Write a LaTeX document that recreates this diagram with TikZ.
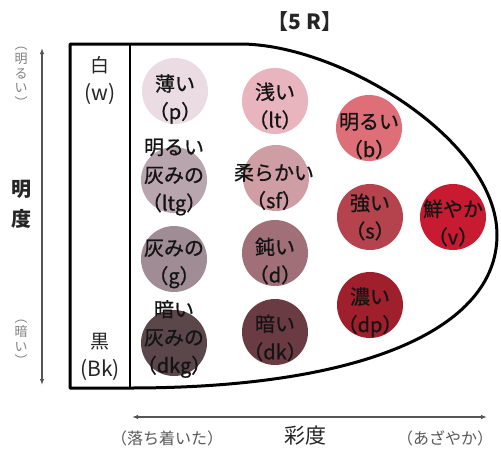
\documentclass[tikz,border=0pt]{standalone}
\usepackage{fontspec}
\setmainfont{Noto Sans CJK JP}
\setsansfont{Noto Sans CJK JP}
\newfontfamily\jpmed[FakeBold=0.8]{Noto Sans CJK JP}
\usetikzlibrary{arrows.meta}
\definecolor{cp}{HTML}{EADCE2}
\definecolor{clt}{HTML}{E8B5BE}
\definecolor{cb}{HTML}{DE6E77}
\definecolor{cltg}{HTML}{B9A5AE}
\definecolor{csf}{HTML}{CF9DA4}
\definecolor{cs}{HTML}{B5434D}
\definecolor{cv}{HTML}{C81A31}
\definecolor{cg}{HTML}{A08C94}
\definecolor{cd}{HTML}{A06F78}
\definecolor{cdkg}{HTML}{5B4749}
\definecolor{cdk}{HTML}{6B3B43}
\definecolor{cdp}{HTML}{A01F2D}
\definecolor{axisgray}{HTML}{555555}
\definecolor{labgray}{HTML}{808080}
\begin{document}
\begin{tikzpicture}[x=1pt,y=-1pt,
  tone/.style={circle, minimum size=66pt, inner sep=0pt, draw=none},
  lbl/.style={align=center, inner sep=0pt, font=\jpmed\fontsize{20}{28}\selectfont, text=black!92},
  wb/.style={align=center, inner sep=0pt, font=\fontsize{19}{28}\selectfont, text=black!85},
  vlab/.style={align=center, inner sep=0pt, font=\fontsize{13}{14.5}\selectfont, text=labgray},
  hlab/.style={inner sep=0pt, font=\fontsize{16}{18}\selectfont, text=black!65},
  axis/.style={line width=1.4pt, draw=axisgray, {Latex[length=6pt,width=4.5pt]}-{Latex[length=6pt,width=4.5pt]}},
  frame/.style={line width=3pt, draw=black}]
\useasboundingbox (0,0) rectangle (501,448);
\fill[white] (0,0) rectangle (501,448);

% tone circles
\node[tone, fill=cp]   (c-p)   at (175,91)  {};
\node[tone, fill=clt]  (c-lt)  at (275,101) {};
\node[tone, fill=cb]   (c-b)   at (369,128) {};
\node[tone, fill=cltg] (c-ltg) at (174,180) {};
\node[tone, fill=csf]  (c-sf)  at (276,178) {};
\node[tone, fill=cs]   (c-s)   at (370,217) {};
\node[tone, fill=cv]   (c-v)   at (453,217) {};
\node[tone, fill=cg]   (c-g)   at (174,259) {};
\node[tone, fill=cd]   (c-d)   at (275,253) {};
\node[tone, fill=cdp]  (c-dp)  at (370,305) {};
\node[tone, fill=cdkg] (c-dkg) at (174,343) {};
\node[tone, fill=cdk]  (c-dk)  at (275,332) {};

% frame
\coordinate (tl) at (70,44);
\coordinate (tm) at (240,44);
\coordinate (rt) at (497,235);
\coordinate (bm) at (130,388);
\coordinate (bl) at (70,388);
\draw[frame, line join=round] (bm) -- (bl) -- (tl) -- (tm)
  .. controls (340,44) and (497,140) .. (rt)
  .. controls (497,330) and (360,388) .. (bm);
\coordinate (it) at (130,44);
\draw[line width=2.6pt] (it) -- (bm);

% labels in circles
\node[lbl] (t-p)   at (175,99)  {薄い\\（p）};
\node[lbl] (t-lt)  at (275,106) {浅い\\（lt）};
\node[lbl] (t-b)   at (369,136) {明るい\\（b）};
\node[lbl] (t-ltg) at (174,177) {明るい\\灰みの\\（ltg）};
\node[lbl] (t-sf)  at (274,187) {柔らかい\\（sf）};
\node[lbl] (t-s)   at (370,217) {強い\\（s）};
\node[lbl] (t-v)   at (453,223) {鮮やか\\（v）};
\node[lbl] (t-g)   at (174,264) {灰みの\\（g）};
\node[lbl] (t-d)   at (275,261) {鈍い\\（d）};
\node[lbl] (t-dp)  at (370,312) {濃い\\（dp）};
\node[lbl] (t-dkg) at (174,339) {暗い\\灰みの\\（dkg）};
\node[lbl] (t-dk)  at (275,338) {暗い\\（dk）};

% white / black column
\node[wb] (w)  at (100,81)  {白\\{\fontsize{21}{28}\selectfont(w)}};
\node[wb] (bk) at (100,357) {黒\\{\fontsize{21}{28}\selectfont(Bk)}};

% title
\node[inner sep=0pt, font=\fontsize{21}{24}\selectfont\bfseries, text=black!85] (title) at (305,22) {【5\hspace{0.25em}R】};

% lightness axis
\coordinate (ya) at (42,48);
\coordinate (yb) at (42,385);
\draw[axis] (yb) -- (ya);
\node[vlab] (light) at (21,77) {︵\\明\\る\\い\\︶};
\node[inner sep=0pt, align=center, font=\fontsize{20}{30}\selectfont\bfseries, text=black!85] (mei) at (21,204) {明\\度};
\node[vlab] (dark) at (21,343) {︵\\暗\\い\\︶};

% chroma axis
\coordinate (xa) at (132,417);
\coordinate (xb) at (487,417);
\draw[axis] (xa) -- (xb);
\node[hlab] (calm) at (167,438) {（落ち着いた）};
\node[inner sep=0pt, font=\fontsize{21}{24}\selectfont, text=black!85] (sai) at (305,436) {彩度};
\node[hlab] (vivid) at (445,438) {（あざやか）};
\end{tikzpicture}
\end{document}
